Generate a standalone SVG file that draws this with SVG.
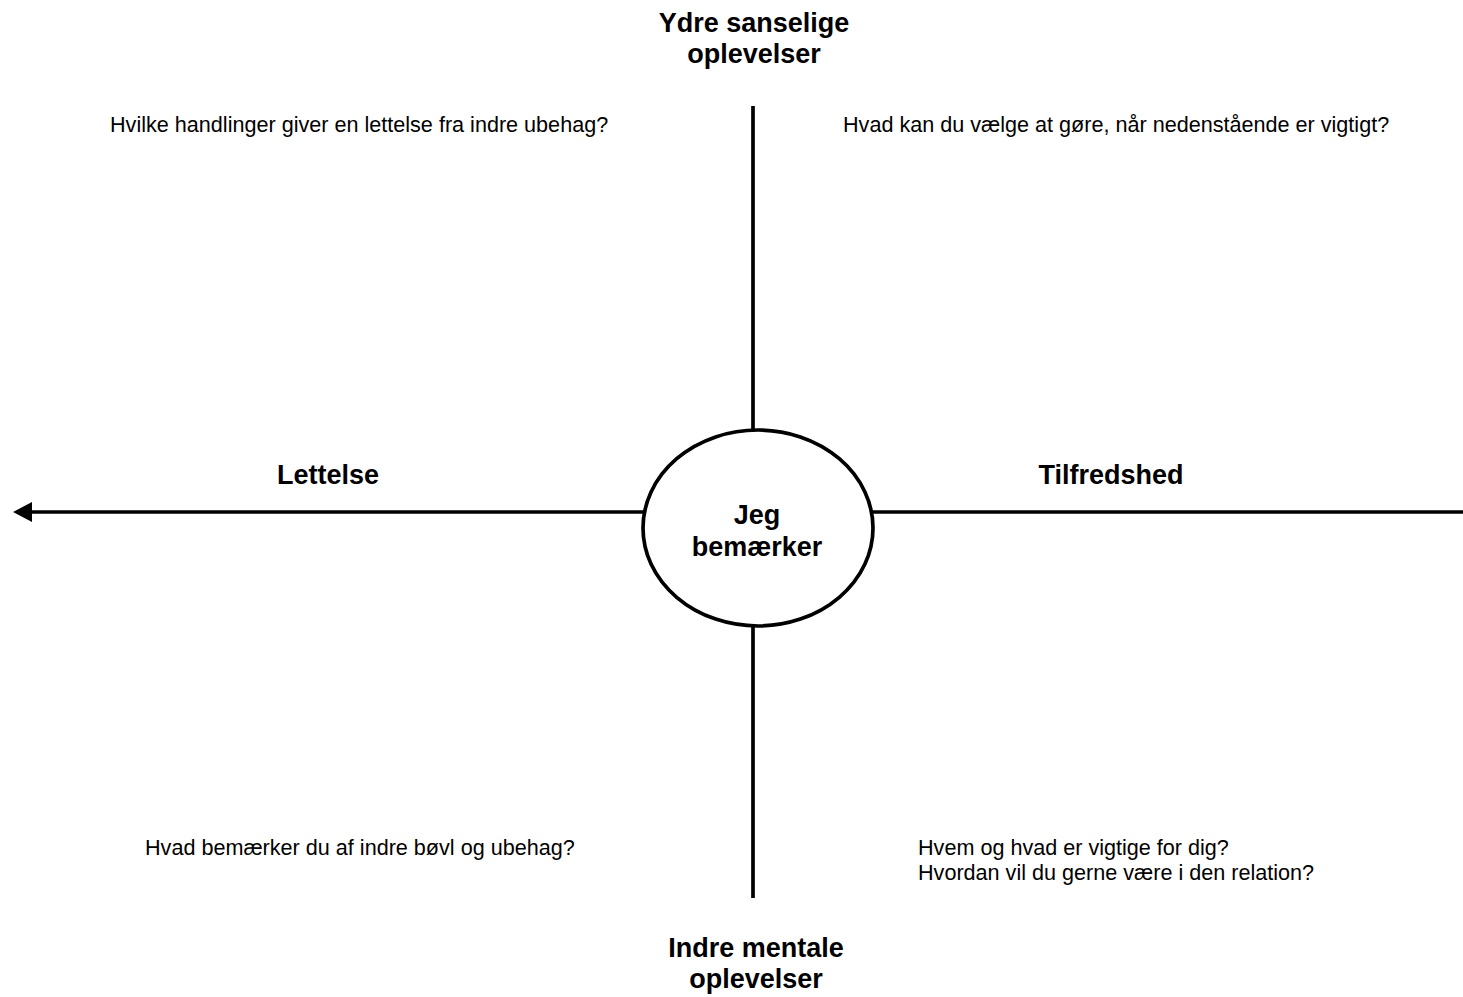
<svg xmlns="http://www.w3.org/2000/svg" width="1463" height="997" viewBox="0 0 1463 997">
<style>
.ln{stroke:#000;stroke-width:3.7;fill:none}
.b{font-family:"Liberation Sans",Arial,sans-serif;font-weight:bold;font-size:27px;fill:#000;text-anchor:middle}
.t{font-family:"Liberation Sans",Arial,sans-serif;font-size:21.6px;fill:#000}
</style>
<defs>
<marker id="arr" markerWidth="20" markerHeight="20" refX="0" refY="10" orient="auto-start-reverse" markerUnits="userSpaceOnUse" viewBox="0 0 20 20">
<path d="M0,0 L19,10 L0,20 Z" fill="#000"/>
</marker>
</defs>
<rect width="1463" height="997" fill="#fff"/>
<g id="connectors">
<line class="ln" x1="753" y1="106" x2="753" y2="430"/>
<line class="ln" x1="753" y1="626" x2="753" y2="898"/>
<line class="ln" x1="1463" y1="512" x2="873" y2="512"/>
<line class="ln" x1="643" y1="512" x2="32" y2="512" marker-end="url(#arr)"/>
</g>
<g id="center">
<ellipse cx="758" cy="528" rx="115" ry="98" fill="#fff" stroke="#000" stroke-width="3.7"/>
<text class="b" x="757" y="524">Jeg</text>
<text class="b" x="757" y="556">bemærker</text>
</g>
<g id="top-label">
<text class="b" x="754" y="32">Ydre sanselige</text>
<text class="b" x="754" y="63">oplevelser</text>
</g>
<g id="bottom-label">
<text class="b" x="756" y="957">Indre mentale</text>
<text class="b" x="756" y="988">oplevelser</text>
</g>
<g id="left-label">
<text class="b" x="328" y="484">Lettelse</text>
</g>
<g id="right-label">
<text class="b" x="1111" y="484">Tilfredshed</text>
</g>
<g id="q-top-left">
<text class="t" x="110" y="132">Hvilke handlinger giver en lettelse fra indre ubehag?</text>
</g>
<g id="q-top-right">
<text class="t" x="843" y="132">Hvad kan du vælge at gøre, når nedenstående er vigtigt?</text>
</g>
<g id="q-bottom-left">
<text class="t" x="145" y="855">Hvad bemærker du af indre bøvl og ubehag?</text>
</g>
<g id="q-bottom-right">
<text class="t" x="918" y="855">Hvem og hvad er vigtige for dig?</text>
<text class="t" x="918" y="880">Hvordan vil du gerne være i den relation?</text>
</g>
</svg>
